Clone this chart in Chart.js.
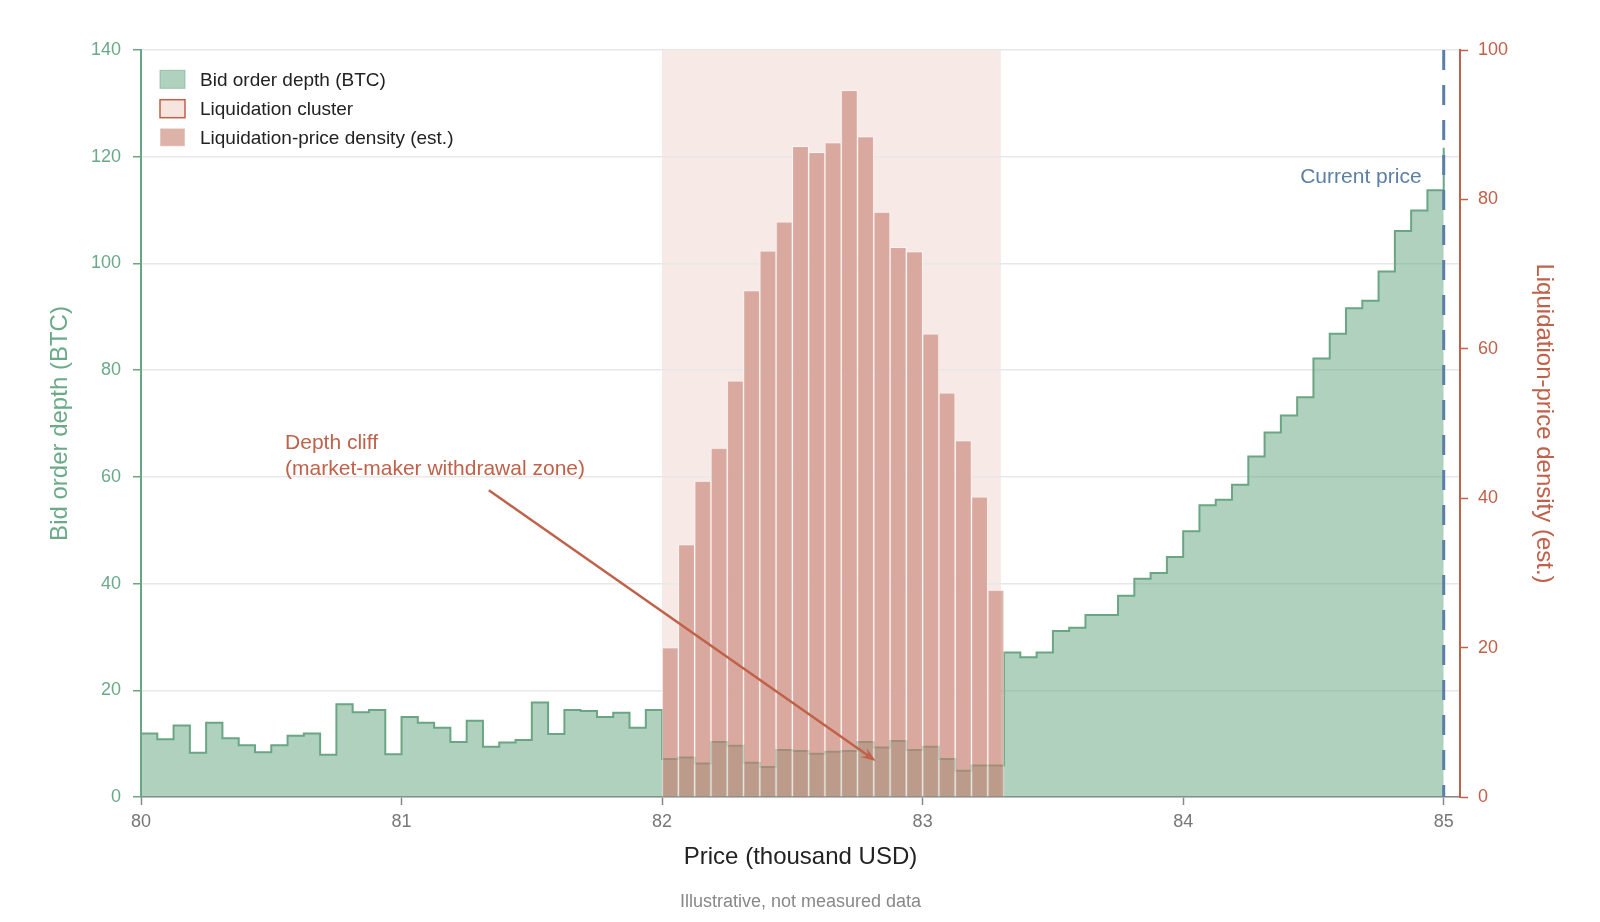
<!DOCTYPE html>
<html>
<head>
<meta charset="utf-8">
<script src="https://cdn.jsdelivr.net/npm/chart.js@4.4.1/dist/chart.umd.min.js"></script>
<style>
html,body{margin:0;padding:0;background:#fff;}
#wrap{width:1600px;height:922px;position:relative;}
</style>
</head>
<body>
<div id="wrap"><canvas id="c" width="1600" height="922"></canvas></div>
<script>
// ---- Data ----
const priceStart = 80;          // first depth bin (thousand USD)
const binWidth = 0.0625;        // bin width (thousand USD)
// Bid order depth (BTC) per bin, last value is the level at the current price
const depthValues = [
  11.9, 10.8, 13.4, 8.3, 13.9, 11.0, 9.7, 8.4, 9.7, 11.5, 11.9, 7.9, 17.4, 15.9, 16.3, 8.0,
  15.0, 13.9, 13.0, 10.3, 14.3, 9.4, 10.2, 10.7, 17.7, 11.8, 16.3, 16.1, 15.0, 15.8, 13.0, 16.3,
  7.1, 7.4, 6.3, 10.3, 9.6, 6.4, 5.6, 8.8, 8.6, 8.1, 8.5, 8.6, 10.3, 9.3, 10.5, 8.8, 9.4, 7.1, 4.9, 5.9, 5.9,
  27.1, 26.2, 27.1, 31.1, 31.7, 34.1, 34.1, 37.7, 40.9, 42.0, 45.0, 49.8, 54.7, 55.7, 58.5,
  63.8, 68.3, 71.5, 74.9, 82.2, 86.8, 91.6, 93.0, 98.5, 106.1, 109.9, 113.7,
  121.7
];
const densityStart = 82;        // first liquidation-density bin
const densityValues = [
  20.0, 33.8, 42.3, 46.7, 55.7, 67.8, 73.1, 77.0, 87.1, 86.3, 87.6, 94.6,
  88.4, 78.3, 73.6, 73.0, 62.0, 54.1, 47.7, 40.2, 27.7
];
const clusterRange = [82, 83.3];
const currentPrice = 85;
const xRange = [80, 85.0625];
const leftRange = [0, 140];
const rightRange = [0, 100];
const legendLabels = ['Bid order depth (BTC)', 'Liquidation cluster', 'Liquidation-price density (est.)'];
const annotationLines = ['Depth cliff', '(market-maker withdrawal zone)'];
const annotationText = {x: 80.553, y: 65.2};
const annotationArrow = {from: {x: 81.335, y: 57.5}, to: {x: 82.82, y: 6.75}};
const currentLabel = {text: 'Current price', x: 84.915, y: 115};

// ---- Styles ----
const FONT = "'Liberation Sans', Arial, Helvetica, sans-serif";
const GREEN = '#6aa684';
const GREEN_TXT = '#6aaa88';
const RED = '#c0614a';
const BLUE = '#5b7fa6';
const GREEN_FILL = 'rgba(106,166,132,0.52)';
const BAR_FILL = 'rgba(198,126,112,0.6)';
const SHADE = '#f6e9e6';

Chart.defaults.font.family = FONT;

const depthData = depthValues.map((v, i) => ({x: priceStart + i * binWidth, y: v}));
const densityData = densityValues.map((v, i) => ({x: densityStart + (i + 0.5) * binWidth, y: v}));

const shadePlugin = {
  id: 'shade',
  beforeDraw(chart) {
    const {ctx, chartArea, scales} = chart;
    const x0 = scales.x.getPixelForValue(clusterRange[0]);
    const x1 = scales.x.getPixelForValue(clusterRange[1]);
    ctx.save();
    ctx.fillStyle = SHADE;
    ctx.fillRect(x0, chartArea.top, x1 - x0, chartArea.bottom - chartArea.top);
    ctx.restore();
  }
};

const overlayPlugin = {
  id: 'overlay',
  afterDatasetsDraw(chart) {
    const {ctx, chartArea, scales} = chart;
    const x = scales.x.getPixelForValue(currentPrice);
    ctx.save();
    ctx.strokeStyle = BLUE;
    ctx.lineWidth = 3;
    ctx.setLineDash([20, 15]);
    ctx.beginPath();
    ctx.moveTo(x, chartArea.top);
    ctx.lineTo(x, chartArea.bottom);
    ctx.stroke();
    ctx.restore();
  },
  afterDraw(chart) {
    const {ctx, chartArea, scales} = chart;
    const sx = scales.x, sy = scales.y;
    ctx.save();
    // Current price label
    ctx.font = '21px ' + FONT;
    ctx.fillStyle = BLUE;
    ctx.textAlign = 'right';
    ctx.textBaseline = 'alphabetic';
    ctx.fillText(currentLabel.text, sx.getPixelForValue(currentLabel.x), sy.getPixelForValue(currentLabel.y));

    // Annotation text
    ctx.fillStyle = RED;
    ctx.textAlign = 'left';
    const tx = sx.getPixelForValue(annotationText.x);
    const ty = sy.getPixelForValue(annotationText.y);
    annotationLines.forEach((t, i) => ctx.fillText(t, tx, ty + i * 26));

    // Arrow
    const ax0 = sx.getPixelForValue(annotationArrow.from.x), ay0 = sy.getPixelForValue(annotationArrow.from.y);
    const ax1 = sx.getPixelForValue(annotationArrow.to.x), ay1 = sy.getPixelForValue(annotationArrow.to.y);
    const ang = Math.atan2(ay1 - ay0, ax1 - ax0);
    const hl = 15, hw = 5.5;
    ctx.strokeStyle = RED;
    ctx.lineWidth = 2.5;
    ctx.beginPath();
    ctx.moveTo(ax0, ay0);
    ctx.lineTo(ax1 - Math.cos(ang) * hl * 0.6, ay1 - Math.sin(ang) * hl * 0.6);
    ctx.stroke();
    ctx.fillStyle = RED;
    ctx.beginPath();
    ctx.moveTo(ax1, ay1);
    ctx.lineTo(ax1 - Math.cos(ang) * hl - Math.sin(ang) * hw, ay1 - Math.sin(ang) * hl + Math.cos(ang) * hw);
    ctx.lineTo(ax1 - Math.cos(ang) * hl * 0.6, ay1 - Math.sin(ang) * hl * 0.6);
    ctx.lineTo(ax1 - Math.cos(ang) * hl + Math.sin(ang) * hw, ay1 - Math.sin(ang) * hl - Math.cos(ang) * hw);
    ctx.closePath();
    ctx.fill();

    // Legend
    const lx = chartArea.left + 19, lw = 25, lh = 18;
    const rows = [79.3, 108.7, 137.3];
    const sw = [
      {fill: GREEN_FILL, stroke: 'rgba(106,166,132,0.55)', lw: 1},
      {fill: '#f6e4df', stroke: RED, lw: 1.5},
      {fill: BAR_FILL, stroke: 'rgba(255,255,255,0.5)', lw: 1}
    ];
    ctx.font = '19px ' + FONT;
    ctx.textBaseline = 'middle';
    ctx.textAlign = 'left';
    rows.forEach((cy, i) => {
      ctx.fillStyle = sw[i].fill;
      ctx.fillRect(lx, cy - lh / 2, lw, lh);
      ctx.strokeStyle = sw[i].stroke;
      ctx.lineWidth = sw[i].lw;
      ctx.strokeRect(lx, cy - lh / 2, lw, lh);
      ctx.fillStyle = '#222';
      ctx.fillText(legendLabels[i], lx + 40, cy + 1);
    });

    // Footnote
    ctx.font = '18px ' + FONT;
    ctx.fillStyle = '#888';
    ctx.textAlign = 'center';
    ctx.fillText('Illustrative, not measured data', (chartArea.left + chartArea.right) / 2, 902);
    ctx.restore();
  }
};

new Chart(document.getElementById('c'), {
  type: 'line',
  data: {
    datasets: [
      {
        type: 'bar',
        label: legendLabels[2],
        data: densityData,
        xAxisID: 'x',
        yAxisID: 'y2',
        backgroundColor: BAR_FILL,
        borderColor: 'rgba(255,255,255,0.5)',
        borderWidth: 1,
        barPercentage: 1,
        categoryPercentage: 1,
        order: 0
      },
      {
        type: 'line',
        label: legendLabels[0],
        data: depthData,
        xAxisID: 'x',
        yAxisID: 'y',
        stepped: 'before',
        fill: 'origin',
        backgroundColor: GREEN_FILL,
        borderColor: GREEN,
        borderWidth: 2,
        pointRadius: 0,
        order: 1
      }
    ]
  },
  options: {
    responsive: false,
    animation: false,
    layout: {padding: {top: 50, left: 0, right: 0, bottom: 0}},
    plugins: {legend: {display: false}, tooltip: {enabled: false}},
    scales: {
      x: {
        type: 'linear',
        min: xRange[0], max: xRange[1],
        offset: false,
        ticks: {stepSize: 1, includeBounds: false, color: '#777', font: {size: 18}, padding: 6, maxRotation: 0},
        grid: {display: true, drawOnChartArea: false, drawTicks: true, tickLength: 8, tickColor: '#888', tickWidth: 1.5, offset: false},
        border: {color: '#888', width: 1.5},
        title: {display: true, text: 'Price (thousand USD)', color: '#222', font: {size: 24}, padding: {top: 0, bottom: 50}},
        afterFit: s => { s.height = 125; }
      },
      y: {
        position: 'left',
        min: leftRange[0], max: leftRange[1],
        ticks: {stepSize: 20, color: GREEN_TXT, font: {size: 18}, padding: 12},
        grid: {color: '#e8e8e8', lineWidth: 1.5, tickColor: GREEN, tickLength: 8, tickWidth: 1.5},
        border: {color: GREEN, width: 2},
        title: {display: true, text: 'Bid order depth (BTC)', color: GREEN_TXT, font: {size: 24}, padding: {top: 46, bottom: 0}},
        afterFit: s => { s.width = 141; }
      },
      y2: {
        position: 'right',
        min: rightRange[0], max: rightRange[1],
        ticks: {stepSize: 20, color: RED, font: {size: 18}, padding: 10},
        grid: {drawOnChartArea: false, tickColor: RED, tickLength: 8, tickWidth: 1.5},
        border: {color: RED, width: 2},
        title: {display: true, text: 'Liquidation-price density (est.)', color: RED, font: {size: 24}, padding: {top: 42, bottom: 0}},
        afterFit: s => { s.width = 140; }
      }
    }
  },
  plugins: [shadePlugin, overlayPlugin]
});
</script>
</body>
</html>
